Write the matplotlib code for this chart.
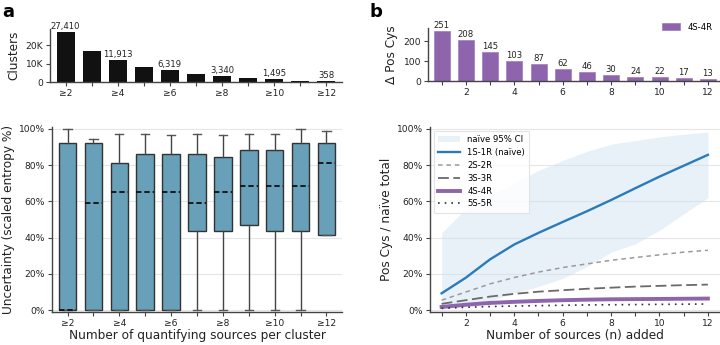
import matplotlib as mpl
import matplotlib.pyplot as plt

mpl.rcParams.update(
    {
        "font.family": "DejaVu Sans",
        "font.size": 7,
        "axes.linewidth": 1.0,
        "axes.edgecolor": "#444444",
        "xtick.color": "#444444",
        "ytick.color": "#444444",
        "xtick.labelcolor": "#222222",
        "ytick.labelcolor": "#222222",
        "xtick.labelsize": 6.6,
        "ytick.labelsize": 6.6,
        "axes.labelsize": 8.7,
        "axes.labelcolor": "#222222",
    }
)

# ---- panel a data ----
CATEGORIES = ["≥2", "≥3", "≥4", "≥5", "≥6", "≥7", "≥8", "≥9", "≥10", "≥11", "≥12"]
CLUSTERS = [27410, 17200, 11913, 8400, 6319, 4450, 3340, 2150, 1495, 650, 358]
CLUSTER_LABELED = [True, False, True, False, True, False, True, False, True, False, True]

BOX_Q1 = [0, 0, 0, 0, 0, 43.9, 43.9, 47.0, 43.9, 43.9, 41.3]
BOX_MED = [0, 59.2, 65.0, 65.0, 65.0, 59.2, 65.0, 68.6, 68.6, 68.6, 81.3]
BOX_Q3 = [92.0, 92.0, 81.3, 86.3, 86.3, 86.3, 84.6, 88.1, 88.1, 92.0, 92.0]
BOX_WLO = [0, 0, 0, 0, 0, 0, 0, 0, 0, 0, 41.3]
BOX_WHI = [100.0, 94.6, 97.2, 97.2, 96.3, 97.2, 96.3, 97.2, 97.2, 99.6, 98.8]

# ---- panel b data ----
N_SOURCES = [1, 2, 3, 4, 5, 6, 7, 8, 9, 10, 11, 12]
DELTA_POS = [251, 208, 145, 103, 87, 62, 46, 30, 24, 22, 17, 13]

NAIVE = [9.3, 17.9, 28.0, 36.2, 42.6, 48.6, 54.5, 60.7, 67.2, 73.6, 79.6, 85.6]
CI_LOW = [0.5, 2.0, 5.0, 9.5, 13.0, 17.5, 24.0, 32.0, 36.5, 44.0, 53.0, 62.0]
CI_HIGH = [42.6, 56.0, 63.0, 70.0, 77.0, 82.5, 87.5, 91.5, 93.5, 95.5, 97.0, 98.2]
S2R2 = [5.5, 10.0, 14.5, 18.0, 21.0, 23.5, 25.5, 27.5, 29.0, 30.5, 32.0, 33.0]
S3R3 = [3.5, 5.5, 7.5, 9.0, 10.2, 11.0, 11.8, 12.4, 13.0, 13.4, 13.8, 14.1]
S4R4 = [1.8, 3.0, 4.0, 4.6, 5.1, 5.5, 5.8, 6.0, 6.1, 6.2, 6.3, 6.4]
S5R5 = [1.0, 1.6, 2.0, 2.3, 2.5, 2.7, 2.9, 3.0, 3.1, 3.2, 3.3, 3.4]

BLACK_BAR = "#111111"
BOX_FILL = "#67a0b8"
PURPLE = "#8e64ad"
BLUE = "#2a7bbb"
W, H = 720, 345


def frac(x0, y0, x1, y1):
    # pixel box -> figure fraction [left, bottom, width, height]
    return [x0 / W, 1 - y1 / H, (x1 - x0) / W, (y1 - y0) / H]


def clean(ax):
    for s in ("top", "right"):
        ax.spines[s].set_visible(False)
    ax.tick_params(length=3, width=0.8, pad=2)


fig = plt.figure(figsize=(7.2, 3.45), dpi=100)

# ---------------- a: top bars ----------------
ax_a1 = fig.add_axes(frac(50, 29, 342, 82))
xs = list(range(len(CATEGORIES)))
ax_a1.bar(xs, CLUSTERS, width=0.68, color=BLACK_BAR)
for x, v, lab in zip(xs, CLUSTERS, CLUSTER_LABELED):
    if lab:
        ax_a1.text(x, v + 600, f"{v:,}", ha="center", va="bottom", fontsize=6.1, color="#222222")
ax_a1.set_xlim(-0.6, 10.6)
ax_a1.set_ylim(0, 29000)
ax_a1.set_yticks([0, 10000, 20000])
ax_a1.set_yticklabels(["0", "10K", "20K"])
ax_a1.set_xticks(xs)
ax_a1.set_xticklabels([c if i % 2 == 0 else "" for i, c in enumerate(CATEGORIES)])
ax_a1.set_ylabel("Clusters", labelpad=4)
clean(ax_a1)

# ---------------- a: box plot ----------------
ax_a2 = fig.add_axes(frac(52, 126.9, 342, 312))
stats = []
for i in range(len(CATEGORIES)):
    stats.append(
        {
            "q1": BOX_Q1[i],
            "med": BOX_MED[i],
            "q3": BOX_Q3[i],
            "whislo": BOX_WLO[i],
            "whishi": BOX_WHI[i],
            "fliers": [],
        }
    )
ax_a2.bxp(
    stats,
    positions=xs,
    widths=0.68,
    capwidths=0.32,
    patch_artist=True,
    showfliers=False,
    boxprops={"facecolor": BOX_FILL, "edgecolor": "#333333", "linewidth": 1.0},
    whiskerprops={"color": "#444444", "linewidth": 1.0},
    capprops={"color": "#555555", "linewidth": 1.0},
    medianprops={"color": "#111111", "linewidth": 1.3, "linestyle": (0, (3, 1.6))},
)
ax_a2.set_xlim(-0.6, 10.6)
ax_a2.set_ylim(-1, 101)
ax_a2.set_yticks([0, 20, 40, 60, 80, 100])
ax_a2.set_yticklabels([f"{v}%" for v in range(0, 101, 20)])
ax_a2.set_xticks(xs)
ax_a2.set_xticklabels([c if i % 2 == 0 else "" for i, c in enumerate(CATEGORIES)])
ax_a2.grid(axis="y", color="#e6e6e6", linewidth=0.8)
ax_a2.set_axisbelow(True)
ax_a2.set_ylabel("Uncertainty (scaled entropy %)", labelpad=3)
ax_a2.set_xlabel("Number of quantifying sources per cluster", labelpad=1)
clean(ax_a2)

# ---------------- b: top bars ----------------
ax_b1 = fig.add_axes(frac(428, 28.3, 720, 81.3))
ax_b1.bar(N_SOURCES, DELTA_POS, width=0.66, color=PURPLE, edgecolor="#9f7cbd",
          linewidth=0.5, label="4S-4R")
for x, v in zip(N_SOURCES, DELTA_POS):
    ax_b1.text(x, v + 5, str(v), ha="center", va="bottom", fontsize=6.1, color="#222222")
ax_b1.set_xlim(0.43, 12.5)
ax_b1.set_ylim(0, 265)
ax_b1.set_yticks([0, 100, 200])
ax_b1.set_xticks(N_SOURCES)
ax_b1.set_xticklabels([str(n) if n % 2 == 0 else "" for n in N_SOURCES])
ax_b1.set_ylabel("Δ Pos Cys", labelpad=4)
ax_b1.legend(loc="upper right", bbox_to_anchor=(1.0, 1.25), frameon=False,
             fontsize=6.1, handlelength=2.2, handleheight=0.9)
clean(ax_b1)

# ---------------- b: lines ----------------
ax_b2 = fig.add_axes(frac(430, 126.9, 720, 312))
ax_b2.fill_between(N_SOURCES, CI_LOW, CI_HIGH, color="#cfe1f1", alpha=0.45,
                   linewidth=0, label="naïve 95% CI")
ax_b2.plot(N_SOURCES, NAIVE, color=BLUE, linewidth=1.7, label="1S-1R (naïve)")
ax_b2.plot(N_SOURCES, S2R2, color="#9a9a9a", linewidth=1.1, linestyle=(0, (3, 2.5)), label="2S-2R")
ax_b2.plot(N_SOURCES, S3R3, color="#6a6a6a", linewidth=1.3, linestyle=(0, (6, 2.5)), label="3S-3R")
ax_b2.plot(N_SOURCES, S4R4, color=PURPLE, linewidth=2.8, label="4S-4R")
ax_b2.plot(N_SOURCES, S5R5, color="#333333", linewidth=1.2, linestyle=(0, (1, 3)), label="5S-5R")
ax_b2.set_xlim(0.52, 12.5)
ax_b2.set_ylim(-1, 101)
ax_b2.set_yticks([0, 20, 40, 60, 80, 100])
ax_b2.set_yticklabels([f"{v}%" for v in range(0, 101, 20)])
ax_b2.set_xticks(N_SOURCES)
ax_b2.set_xticklabels([str(n) if n % 2 == 0 else "" for n in N_SOURCES])
ax_b2.grid(axis="y", color="#e6e6e6", linewidth=0.8)
ax_b2.set_axisbelow(True)
ax_b2.set_ylabel("Pos Cys / naïve total", labelpad=3)
ax_b2.set_xlabel("Number of sources (n) added", labelpad=1)
leg = ax_b2.legend(loc="upper left", fontsize=6.1, frameon=True, fancybox=False,
                   handlelength=2.6, borderpad=0.5, labelspacing=0.45,
                   bbox_to_anchor=(0.0, 1.0))
leg.get_frame().set_edgecolor("#dddddd")
leg.get_frame().set_linewidth(0.8)
clean(ax_b2)

fig.text(2 / W, 1 - 12 / H, "a", fontsize=13, fontweight="bold", va="center", ha="left")
fig.text(370 / W, 1 - 12 / H, "b", fontsize=13, fontweight="bold", va="center", ha="left")

fig.savefig("out.png", dpi=100, facecolor="white")
